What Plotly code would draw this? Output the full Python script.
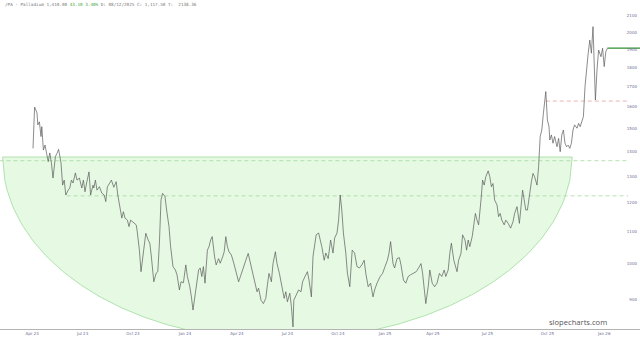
import math
import plotly.graph_objects as go

# ---------------- data ----------------
session = [0,2,5,6,8,10,11,13,15,17,19,21,23,25,28,30,32,35,37,39,41,44,46,48,50,53,55,58,61,63,
           65,67,70,72,75,76,78,80,83,86,89,91,93,96,98,101,104,106,109,111,113,115,118,120,122,125,129,130,133,135,
           138,141,144,146,148,151,154,156,158,160,162,165,167,170,172,175,178,180,183,185,188,191,193,196,198,200,203,205,207,209,
           211,213,215,218,220,222,224,227,229,232,234,237,239,241,243,245,248,251,254,257,260,263,266,269,271,274,277,280,282,285,
           288,291,293,295,298,300,303,305,308,311,314,316,318,321,323,325,326,329,332,335,337,340,343,345,348,350,354,357,361,364,
           366,369,372,375,377,380,382,384,386,388,391,393,396,399,402,405,408,411,414,416,419,422,425,427,430,434,437,440,443,445,
           447,450,452,455,458,460,463,466,469,472,475,479,482,485,487,489,491,494,496,499,502,505,508,511,514,516,519,521,523,526,
           530,532,535,537,540,542,544,546,549,551,553,555,557,560,562,564,566,569,571,573,575,577,580,582,584,586,589,591,594,597,
           600,602,605,608,610,612,614,616,618,621,623,625,627,630,632,634,636,638,640,641,643,645,646,648,650,652,655,657,659,661,
           663,665,667,669,671,673,675,677,680,682,684,686,688,690,692,694,696,698,700,702,703,705,707,710,712,714,716,718]

price = [1413,1599,1571,1516,1530,1464,1508,1406,1427,1386,1358,1394,1353,1293,1379,1392,1409,1353,1266,1285,
         1229,1247,1255,1285,1274,1313,1285,1293,1255,1285,1241,1274,1317,1229,1266,1255,1285,1247,1260,1236,
         1229,1205,1260,1274,1285,1258,1279,1229,1169,1147,1169,1147,1140,1118,1140,1134,1124,1107,1042,977,
         1033,1096,1074,1064,1021,948,973,977,1064,1211,1235,1223,1175,1118,1053,992,982,968,925,948,
         945,997,963,934,906,871,917,953,982,988,963,992,944,1042,1053,1074,1085,1021,997,1016,
         1002,1021,1037,1085,1053,1037,1027,1002,973,948,968,992,1011,1032,1011,982,953,920,930,897,
         888,902,939,972,948,1001,1037,1001,972,934,902,920,893,916,880,828,897,911,925,920,
         948,963,977,953,906,1023,1091,1097,1053,1011,1033,1016,1074,1033,1080,1097,1140,1229,1175,1097,
         1033,973,934,1042,1033,992,988,997,1011,972,934,944,906,925,944,963,972,992,1011,1033,
         1069,1001,988,1016,1019,997,953,944,963,968,972,977,988,1001,972,934,888,934,982,944,
         934,944,972,963,982,963,982,1032,1064,1011,977,1011,1032,1091,1074,1042,1074,1053,1085,1124,
         1163,1140,1124,1211,1285,1266,1298,1321,1298,1260,1272,1211,1193,1152,1163,1140,1124,1140,1129,1113,
         1134,1163,1187,1129,1187,1247,1211,1175,1175,1247,1279,1311,1298,1266,1338,1464,1493,1569,1650,1675,
         1538,1508,1449,1471,1435,1464,1420,1456,1399,1471,1493,1435,1420,1427,1413,1435,1493,1516,1501,1523,
         1508,1538,1554,1700,1805,1879,1954,1879,2034,1787,1633,1787,1897,1859,1907,1805,1887,1907]

x_tick_sessions = [-1, 62, 125, 190, 255, 318, 381, 440, 500, 568, 643, 714]
x_tick_labels = ["Apr 23", "Jul 23", "Oct 23", "Jan 24", "Apr 24", "Jul 24",
                 "Oct 24", "Jan 25", "Apr 25", "Jul 25", "Oct 25", "Jan 26"]
y_tick_values = [900, 1000, 1100, 1200, 1300, 1400, 1500, 1600, 1700, 1800, 1900, 2000, 2100]

# drawn annotations (price levels / bowl)
bowl_start, bowl_center, bowl_end = -38, 306, 674
bowl_rim, bowl_floor = 1377, 796
green_level_1, green_level_1_start = 1362, -42
green_level_2, green_level_2_start = 1226, 42
red_level, red_level_start = 1628, 641
levels_end = 744

header = ("/PA - Palladium 1,410.00 <span style='color:#3aa63a'>43.10 3.40%</span> "
          "D: 08/12/2025 C: 1,117.50 T:  2138.36")

# ---------------- figure ----------------
x_min, x_max = -41.25, 758.75
y_min, y_max = 823, 2203

fig = go.Figure()

# rounded-bottom bowl (half ellipse in log-price space)
lr, lf = math.log10(bowl_rim), math.log10(bowl_floor)
bx, by = [], []
n = 120
for k in range(n + 1):
    s = bowl_start + (bowl_center - bowl_start) * k / n
    u = (s - bowl_center) / (bowl_center - bowl_start)
    bx.append(s)
    by.append(10 ** (lr - (lr - lf) * math.sqrt(max(0.0, 1 - u * u))))
for k in range(1, n + 1):
    s = bowl_center + (bowl_end - bowl_center) * k / n
    u = (s - bowl_center) / (bowl_end - bowl_center)
    bx.append(s)
    by.append(10 ** (lr - (lr - lf) * math.sqrt(max(0.0, 1 - u * u))))
bx.append(bowl_start)
by.append(bowl_rim)
fig.add_trace(go.Scatter(x=bx, y=by, mode="lines", fill="toself",
                         fillcolor="rgba(226,248,224,0.9)",
                         line=dict(color="#9edc9a", width=0.8), hoverinfo="skip"))

# dashed levels
for lvl, start, col in [(green_level_1, green_level_1_start, "#a6dba2"),
                        (green_level_2, green_level_2_start, "#a6dba2"),
                        (red_level, red_level_start, "#e8a0a0")]:
    fig.add_trace(go.Scatter(x=[start, levels_end], y=[lvl, lvl], mode="lines",
                             line=dict(color=col, width=0.8, dash="4px,3px"),
                             hoverinfo="skip"))

# price line
fig.add_trace(go.Scatter(x=session, y=price, mode="lines",
                         line=dict(color="#5a5a5a", width=0.7)))

# last price marker line
fig.add_trace(go.Scatter(x=[session[-1], x_max], y=[price[-1], price[-1]], mode="lines",
                         line=dict(color="#2f8f2f", width=1.2), cliponaxis=False))

fig.add_annotation(text=header, xref="paper", yref="paper", x=0.005, y=1.0,
                   xanchor="left", yanchor="top", showarrow=False,
                   font=dict(family="DejaVu Sans Mono", size=4.3, color="#777777"))
fig.add_annotation(text="slopecharts.com", xref="paper", yref="paper", x=0.951, y=0.0,
                   xanchor="right", yanchor="bottom", showarrow=False,
                   font=dict(family="Open Sans", size=7.6, color="#555555"))

fig.update_layout(
    width=640, height=340,
    margin=dict(l=0, r=0, t=0, b=11),
    paper_bgcolor="white", plot_bgcolor="white",
    showlegend=False,
    xaxis=dict(range=[x_min, x_max], tickvals=x_tick_sessions, ticktext=x_tick_labels,
               showgrid=False, zeroline=False, showline=True, linecolor="#b4b4b4",
               linewidth=1, ticks="", tickfont=dict(size=4, color="#6a6a94",
                                                     family="DejaVu Sans")),
    yaxis=dict(type="log", range=[math.log10(y_min), math.log10(y_max)],
               tickvals=y_tick_values, ticktext=[str(v) for v in y_tick_values],
               side="right", ticklabelposition="inside", showgrid=False,
               zeroline=False, showline=False, ticks="",
               tickfont=dict(size=4, color="#6a6a94", family="DejaVu Sans")),
)

fig.write_html("out.html")
